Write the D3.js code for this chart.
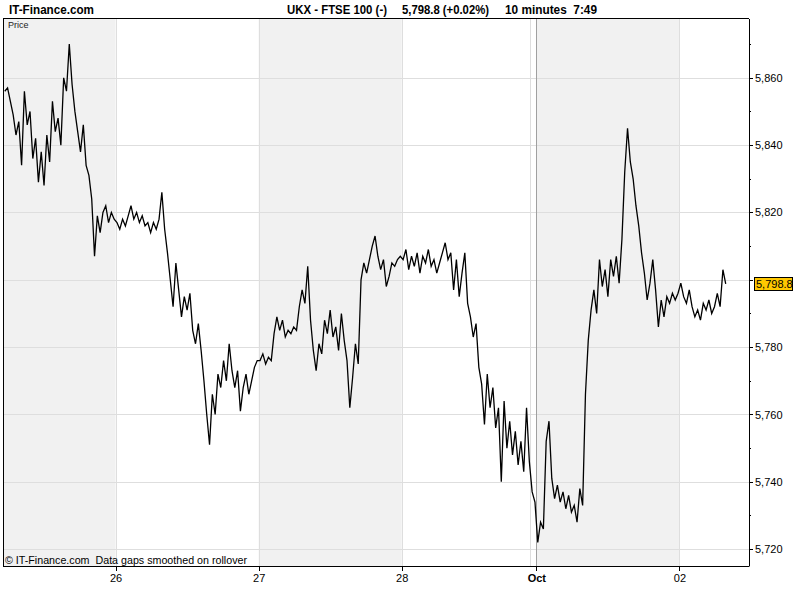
<!DOCTYPE html>
<html><head><meta charset="utf-8">
<script src="https://cdn.jsdelivr.net/npm/d3@7"></script>
<style>
body{margin:0;background:#fff;}
text{font-family:"Liberation Sans",Arial,sans-serif;}
</style></head>
<body><svg id="c" width="800" height="600"></svg>
<script>
// ---- data (10-minute closes, FTSE 100, 25 Sep – 2 Oct) ----
const prices = [
 5856,5857,5853,5849,5843,5847,5834,5856,5846,5850,5836,5842,5829,5838,5828,5843,5835,5853,5844,5848,
 5840,5860,5856,5870,5858,5850,5844,5838,5846,5834,5831,5824,5807,5819,5814,5820,5822,5817,5820,5818,
 5817,5815,5818,5816,5819,5822,5818,5820,5817,5819,5816,5817,5814,5817,5815,5818,5826,5815,5808,5800,
 5792,5805,5797,5789,5795,5791,5796,5785,5781,5787,5779,5770,5760,5751,5766,5760,5772,5768,5776,5770,
 5781,5773,5768,5773,5761,5768,5772,5766,5770,5774,5776,
 5776,5778,5775,5777,5776,5784,5789,5785,5788,5783,5785,5784,5786,5785,5792,5797,5793,5804,5788,5779,
 5773,5781,5778,5788,5784,5791,5783,5786,5779,5790,5782,5776,5762,5771,5781,5775,5800,5805,5802,5806,
 5810,5813,5807,5803,5806,5798,5801,5805,5804,5806,5807,
 5806,5809,5803,5807,5804,5808,5802,5807,5805,5809,5804,5806,5802,5805,5808,5811,5806,5808,5797,5806,
 5795,5802,5808,5793,5789,5783,5787,5774,5769,5757,5772,5762,5768,5756,5762,5740,5764,5750,5758,5748,
 5755,5745,5752,5743,5762,5746,5737,5734,
 5722,5728,5726,5752,5758,5741,5735,5739,5734,5737,5732,5736,5731,5733,5728,5738,5733,5766,5782,5791,
 5797,5790,5806,5798,5803,5795,5806,5801,5807,5799,5812,5832,5845,5835,5830,5822,5816,5808,5802,5794,
 5799,5806,5797,5786,5794,5789,5795,5793,5796,5794,5796,
 5799,5795,5793,5797,5792,5789,5791,5788,5793,5791,5794,5790,5792,5796,5792,5803,5798.8
];
// day boundaries in bar-index units, with their labels
const dayTicks  = [39.5, 90.5, 141.5, 189.5, 240.5];
const dayLabels = ["26", "27", "28", "Oct", "02"];
const boldLabel = [false, false, false, true, false];
const shadedDays = [[-0.5, 39.5], [90.5, 141.5], [189.5, 240.5]];
const weekBreak = [187.4];
const monthBreak = [189.5];
const yMajor = [5720, 5740, 5760, 5780, 5800, 5820, 5840, 5860];
const yMinor = [5730, 5750, 5770, 5790, 5810, 5830, 5850, 5870];
const lastPrice = 5798.8;

// ---- layout ----
const L = 3.5, R = 749, T = 18.5, B = 566;
const svg = d3.select("#c");
const x = d3.scaleLinear().domain([-0.45, 265.3]).range([L, R]);
const y = d3.scaleLinear().domain([5715, 5877.6]).range([B, T]);

// shading
svg.append("g").selectAll("rect").data(shadedDays).join("rect")
  .attr("x", d => Math.max(L, x(d[0]))).attr("y", T)
  .attr("width", d => x(d[1]) - Math.max(L, x(d[0]))).attr("height", B - T)
  .attr("fill", "#f1f1f1");

// gridlines
const grid = svg.append("g").attr("stroke", "#dedede").attr("stroke-width", 1).attr("shape-rendering", "crispEdges");
grid.selectAll(".h").data(yMajor).join("line")
  .attr("x1", L).attr("x2", R).attr("y1", d => Math.round(y(d)) + 0.5).attr("y2", d => Math.round(y(d)) + 0.5);
grid.selectAll(".v").data(dayTicks.filter((d, i) => !boldLabel[i]).concat(weekBreak)).join("line")
  .attr("y1", T).attr("y2", B).attr("x1", d => Math.round(x(d)) + 0.5).attr("x2", d => Math.round(x(d)) + 0.5);
svg.append("g").selectAll("line").data(monthBreak).join("line")
  .attr("y1", T).attr("y2", B).attr("x1", d => Math.round(x(d)) + 0.5).attr("x2", d => Math.round(x(d)) + 0.5)
  .attr("stroke", "#a0a0a0").attr("shape-rendering", "crispEdges");

// price line
svg.append("path").datum(prices)
  .attr("d", d3.line().x((d, i) => x(i)).y(d => y(d)))
  .attr("fill", "none").attr("stroke", "#000").attr("stroke-width", 1.3).attr("stroke-linejoin", "miter");

// frame
svg.append("path").attr("d", `M${R},${T}H${L}V${B}H${R}`).attr("fill", "none").attr("stroke", "#000")
  .attr("shape-rendering", "crispEdges");

// y axis (right); the label hidden under the last-price box is left out
const yl = Math.round(y(lastPrice));
const fmt = d3.format(",");
const yAx = svg.append("g").attr("transform", `translate(${R},0)`)
  .call(d3.axisRight(y).tickValues(yMajor)
    .tickFormat(d => Math.abs(y(d) - yl) < 10 ? "" : fmt(d))
    .tickSize(4).tickPadding(2).tickSizeOuter(0));
yAx.select(".domain").attr("stroke", "#000");
yAx.selectAll("text").attr("font-size", 11).attr("font-family", "Liberation Sans, Arial").attr("fill", "#000");
yAx.selectAll("line").attr("shape-rendering", "crispEdges");
svg.append("g").attr("transform", `translate(${R},0)`).selectAll("line").data(yMinor).join("line")
  .attr("x1", 0).attr("x2", 2).attr("y1", d => Math.round(y(d)) + 0.5).attr("y2", d => Math.round(y(d)) + 0.5)
  .attr("stroke", "#000").attr("shape-rendering", "crispEdges");

// x axis (bottom)
const xAx = svg.append("g").attr("transform", `translate(0,${B})`)
  .call(d3.axisBottom(x).tickValues(dayTicks).tickFormat((d, i) => dayLabels[i]).tickSize(5).tickPadding(3).tickSizeOuter(0));
xAx.select(".domain").remove();
xAx.selectAll("line").attr("stroke", "#000").attr("shape-rendering", "crispEdges");
xAx.selectAll("text").attr("font-size", 11).attr("font-family", "Liberation Sans, Arial").attr("fill", "#000")
  .attr("font-weight", (d, i) => boldLabel[i] ? "bold" : "normal");

// last price box
svg.append("rect").attr("x", 754.5).attr("y", yl - 6.5).attr("width", 38).attr("height", 13)
  .attr("fill", "#ffc800").attr("stroke", "#000");
svg.append("text").attr("x", 756).attr("y", yl + 4).attr("font-size", 11).text(d3.format(",.1f")(lastPrice));

// header texts
const hdr = [
  {t: "IT-Finance.com", x: 9, w: 85},
  {t: "UKX - FTSE 100 (-)", x: 287, w: 100},
  {t: "5,798.8 (+0.02%)", x: 402, w: 87},
  {t: "10 minutes  7:49", x: 505, w: 92}
];
svg.append("g").selectAll("text").data(hdr).join("text")
  .attr("x", d => d.x).attr("y", 14).attr("font-size", 13).attr("font-weight", "bold")
  .attr("textLength", d => d.w).attr("lengthAdjust", "spacingAndGlyphs")
  .style("white-space", "pre").text(d => d.t);

svg.append("text").attr("x", 8).attr("y", 28).attr("font-size", 9).attr("fill", "#222").text("Price");
svg.append("text").attr("x", 5).attr("y", 564).attr("font-size", 11)
  .attr("textLength", 242).attr("lengthAdjust", "spacingAndGlyphs")
  .text("© IT-Finance.com  Data gaps smoothed on rollover").style("white-space", "pre");
</script></body></html>
